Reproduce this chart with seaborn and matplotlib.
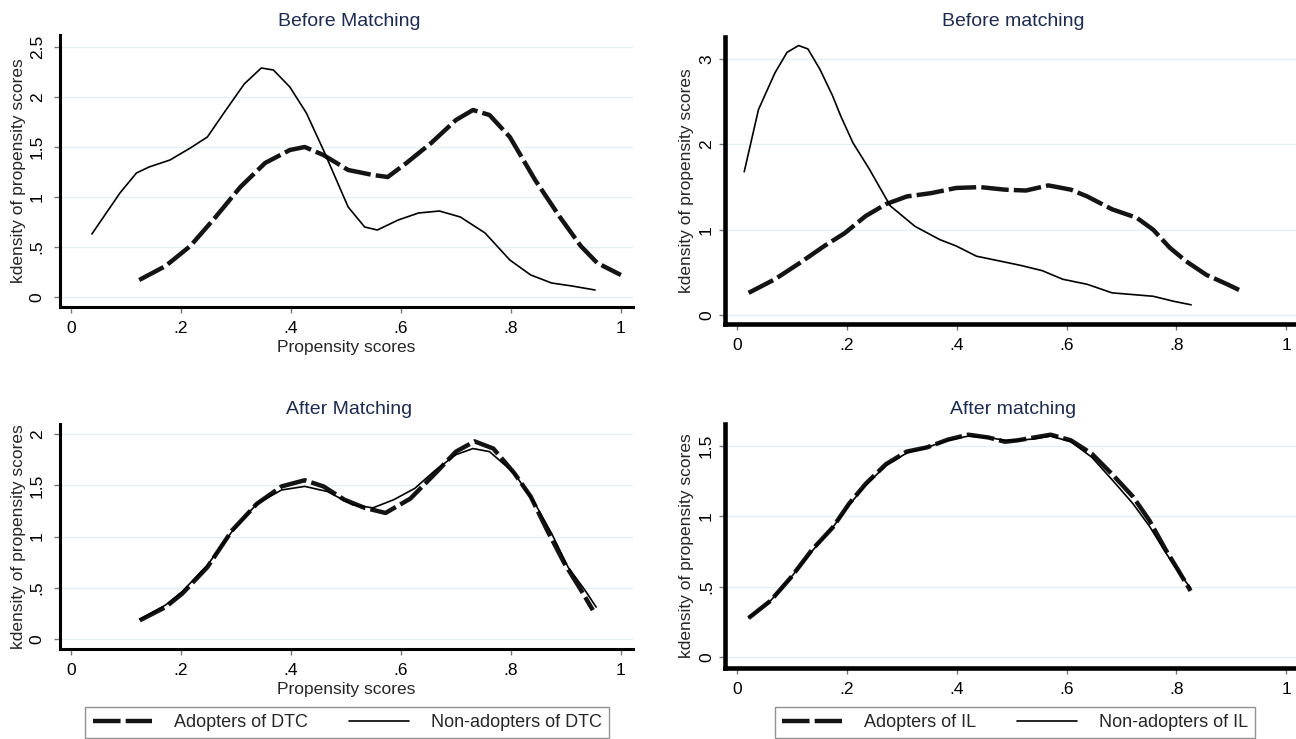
import matplotlib
matplotlib.use('Agg')
import matplotlib.pyplot as plt
import seaborn as sns

sns.set_theme(style="white")
plt.rcParams['font.family'] = ['Liberation Sans', 'DejaVu Sans']

# --- data (kdensity of propensity scores) ---
# DTC, before matching
dtc_pre_adopt_x = [0.124, 0.172, 0.217, 0.263, 0.308, 0.353, 0.398, 0.425, 0.459, 0.504, 0.549,
                   0.576, 0.610, 0.655, 0.700, 0.731, 0.761, 0.798, 0.844, 0.889, 0.927, 0.957, 1.0]
dtc_pre_adopt_y = [0.17, 0.31, 0.51, 0.80, 1.10, 1.34, 1.47, 1.50, 1.42, 1.27, 1.22,
                   1.20, 1.34, 1.54, 1.77, 1.87, 1.82, 1.60, 1.17, 0.80, 0.51, 0.34, 0.22]
dtc_pre_non_x = [0.038, 0.089, 0.119, 0.142, 0.180, 0.217, 0.248, 0.278, 0.315, 0.346, 0.368,
                 0.398, 0.428, 0.459, 0.504, 0.534, 0.557, 0.595, 0.632, 0.670, 0.708, 0.753,
                 0.798, 0.836, 0.874, 0.911, 0.953]
dtc_pre_non_y = [0.63, 1.04, 1.24, 1.30, 1.37, 1.49, 1.60, 1.84, 2.13, 2.29, 2.27,
                 2.10, 1.84, 1.47, 0.90, 0.70, 0.67, 0.77, 0.84, 0.86, 0.80, 0.64,
                 0.37, 0.22, 0.14, 0.11, 0.07]

# IL, before matching
il_pre_adopt_x = [0.021, 0.069, 0.114, 0.159, 0.196, 0.234, 0.271, 0.309, 0.354, 0.399, 0.443,
                  0.488, 0.526, 0.567, 0.608, 0.638, 0.683, 0.728, 0.758, 0.788, 0.818, 0.855,
                  0.893, 0.919]
il_pre_adopt_y = [0.26, 0.42, 0.61, 0.81, 0.96, 1.16, 1.30, 1.39, 1.43, 1.49, 1.50,
                  1.47, 1.46, 1.52, 1.47, 1.39, 1.24, 1.14, 1.00, 0.79, 0.63, 0.47,
                  0.36, 0.28]
il_pre_non_x = [0.013, 0.039, 0.069, 0.091, 0.112, 0.129, 0.151, 0.174, 0.189, 0.211, 0.241,
                0.279, 0.324, 0.369, 0.399, 0.436, 0.481, 0.518, 0.556, 0.593, 0.638, 0.683,
                0.721, 0.758, 0.796, 0.827]
il_pre_non_y = [1.68, 2.41, 2.84, 3.08, 3.16, 3.12, 2.88, 2.57, 2.33, 2.02, 1.71,
                1.28, 1.04, 0.885, 0.81, 0.69, 0.63, 0.58, 0.52, 0.42, 0.36, 0.26,
                0.24, 0.22, 0.16, 0.12]

# DTC, after matching
dtc_post_adopt_x = [0.125, 0.172, 0.202, 0.248, 0.293, 0.338, 0.383, 0.425, 0.459, 0.497, 0.534,
                    0.572, 0.617, 0.663, 0.700, 0.734, 0.768, 0.806, 0.836, 0.866, 0.897, 0.927, 0.949]
dtc_post_adopt_y = [0.18, 0.31, 0.44, 0.70, 1.06, 1.32, 1.49, 1.55, 1.49, 1.36, 1.28,
                    1.23, 1.37, 1.62, 1.83, 1.93, 1.86, 1.62, 1.39, 1.06, 0.74, 0.48, 0.28]
dtc_post_non_x = [0.125, 0.172, 0.202, 0.248, 0.293, 0.338, 0.383, 0.425, 0.466, 0.512, 0.549,
                  0.587, 0.625, 0.663, 0.700, 0.731, 0.761, 0.806, 0.844, 0.874, 0.904, 0.934, 0.955]
dtc_post_non_y = [0.19, 0.33, 0.46, 0.72, 1.05, 1.32, 1.455, 1.49, 1.44, 1.31, 1.28,
                  1.36, 1.47, 1.65, 1.80, 1.86, 1.83, 1.62, 1.32, 1.03, 0.70, 0.48, 0.31]

# IL, after matching
il_post_adopt_x = [0.021, 0.061, 0.099, 0.136, 0.174, 0.204, 0.234, 0.271, 0.309, 0.346, 0.384,
                   0.421, 0.458, 0.488, 0.511, 0.541, 0.571, 0.608, 0.646, 0.683, 0.721, 0.751,
                   0.781, 0.803, 0.826]
il_post_adopt_y = [0.277, 0.40, 0.57, 0.76, 0.92, 1.09, 1.23, 1.37, 1.46, 1.49, 1.545,
                   1.58, 1.56, 1.53, 1.54, 1.56, 1.58, 1.54, 1.445, 1.30, 1.14, 0.97,
                   0.76, 0.62, 0.47]
il_post_non_x = [0.021, 0.061, 0.099, 0.136, 0.174, 0.204, 0.234, 0.271, 0.309, 0.346, 0.384,
                 0.421, 0.458, 0.488, 0.511, 0.541, 0.571, 0.608, 0.646, 0.683, 0.721, 0.751,
                 0.781, 0.803, 0.826]
il_post_non_y = [0.28, 0.40, 0.57, 0.75, 0.92, 1.08, 1.22, 1.36, 1.45, 1.49, 1.54,
                 1.57, 1.56, 1.54, 1.54, 1.55, 1.57, 1.53, 1.42, 1.26, 1.09, 0.93,
                 0.74, 0.61, 0.49]

x_ticks = [0, 0.2, 0.4, 0.6, 0.8, 1]
x_ticklabels = ["0", ".2", ".4", ".6", ".8", "1"]

W, H = 1296, 739
TITLE_COLOR = '#1e2b50'
FS_TITLE = 14
FS_LABEL = 12.5
FS_TICK = 12.5
FS_LEG = 13
DASH = (0, (6.2, 1.15))

fig = plt.figure(figsize=(W / 100, H / 100), dpi=100)


def rect(l, r, t, b):
    return [l / W, 1 - b / H, (r - l) / W, (b - t) / H]


def setup(ax, xlim, ylim, yticks, yticklabels, spine_w, ylabel_px, title, title_y, xlabel, ypad):
    ax.set_xlim(*xlim)
    ax.set_ylim(*ylim)
    for s in ['top', 'right']:
        ax.spines[s].set_visible(False)
    for s in ['left', 'bottom']:
        ax.spines[s].set_color('black')
        ax.spines[s].set_linewidth(spine_w)
    ax.set_xticks(x_ticks)
    ax.set_xticklabels(x_ticklabels)
    ax.set_yticks(yticks)
    ax.set_yticklabels(yticklabels, rotation=90, va='center')
    ax.tick_params(axis='both', bottom=True, left=True, direction='out', length=4, width=1,
                   color='#777777', labelsize=FS_TICK, labelcolor='black')
    ax.tick_params(axis='x', pad=6)
    ax.tick_params(axis='y', pad=ypad)
    ax.yaxis.grid(True, color='#e6eff1', lw=1)
    ax.xaxis.grid(False)
    ax.set_axisbelow(True)
    ax.set_ylabel("kdensity of propensity scores", fontsize=FS_LABEL)
    pos = ax.get_position()
    ax.yaxis.set_label_coords((ylabel_px / W - pos.x0) / pos.width, 0.5)
    if xlabel:
        ax.set_xlabel("Propensity scores", fontsize=FS_LABEL, labelpad=3)
    else:
        ax.set_xlabel("")
    fig.text(pos.x0 + pos.width / 2 + 3 / W, 1 - title_y / H, title, ha='center', va='center',
             fontsize=FS_TITLE, color=TITLE_COLOR)


def curves(ax, ax_, ay_, nx_, ny_, lab_a, lab_n):
    sns.lineplot(x=ax_, y=ay_, ax=ax, color='#141414', lw=3.2, linestyle=DASH,
                 sort=False, label=lab_a)
    sns.lineplot(x=nx_, y=ny_, ax=ax, color='black', lw=1.2, sort=False, label=lab_n)


ax_tl = fig.add_axes(rect(60, 633, 35, 307))
curves(ax_tl, dtc_pre_adopt_x, dtc_pre_adopt_y, dtc_pre_non_x, dtc_pre_non_y,
       "Adopters of DTC", "Non-adopters of DTC")
setup(ax_tl, (-0.02, 1.022), (-0.1, 2.62), [0, 0.5, 1, 1.5, 2, 2.5],
      ["0", ".5", "1", "1.5", "2", "2.5"], 2.2, 26, "Before Matching", 21, True, 7)
ax_tl.get_legend().remove()

ax_tr = fig.add_axes(rect(725, 1296, 37, 324))
curves(ax_tr, il_pre_adopt_x, il_pre_adopt_y, il_pre_non_x, il_pre_non_y,
       "Adopters of IL", "Non-adopters of IL")
setup(ax_tr, (-0.022, 1.018), (-0.105, 3.26), [0, 1, 2, 3],
      ["0", "1", "2", "3"], 3.3, 694, "Before matching", 21, False, 4)
ax_tr.get_legend().remove()

ax_bl = fig.add_axes(rect(60, 633, 424, 649))
curves(ax_bl, dtc_post_adopt_x, dtc_post_adopt_y, dtc_post_non_x, dtc_post_non_y,
       "Adopters of DTC", "Non-adopters of DTC")
setup(ax_bl, (-0.02, 1.022), (-0.1, 2.1), [0, 0.5, 1, 1.5, 2],
      ["0", ".5", "1", "1.5", "2"], 2.2, 26, "After Matching", 409, True, 7)

ax_br = fig.add_axes(rect(725, 1296, 424, 668))
curves(ax_br, il_post_adopt_x, il_post_adopt_y, il_post_non_x, il_post_non_y,
       "Adopters of IL", "Non-adopters of IL")
setup(ax_br, (-0.022, 1.018), (-0.078, 1.656), [0, 0.5, 1, 1.5],
      ["0", ".5", "1", "1.5"], 3.3, 694, "After matching", 409, False, 4)

for ax, cx in [(ax_bl, 347), (ax_br, 1015)]:
    h, l = ax.get_legend_handles_labels()
    leg = ax.legend(h, l, loc='upper center', bbox_to_anchor=(cx / W, 1 - 707 / H),
                    bbox_transform=fig.transFigure, ncol=2, frameon=True, fancybox=False,
                    edgecolor='#777777', fontsize=FS_LEG, handlelength=3.3, handletextpad=1.2,
                    columnspacing=2.3, borderpad=0.4, borderaxespad=0)
    leg.get_frame().set_linewidth(1)

fig.savefig('out.png', dpi=100)
